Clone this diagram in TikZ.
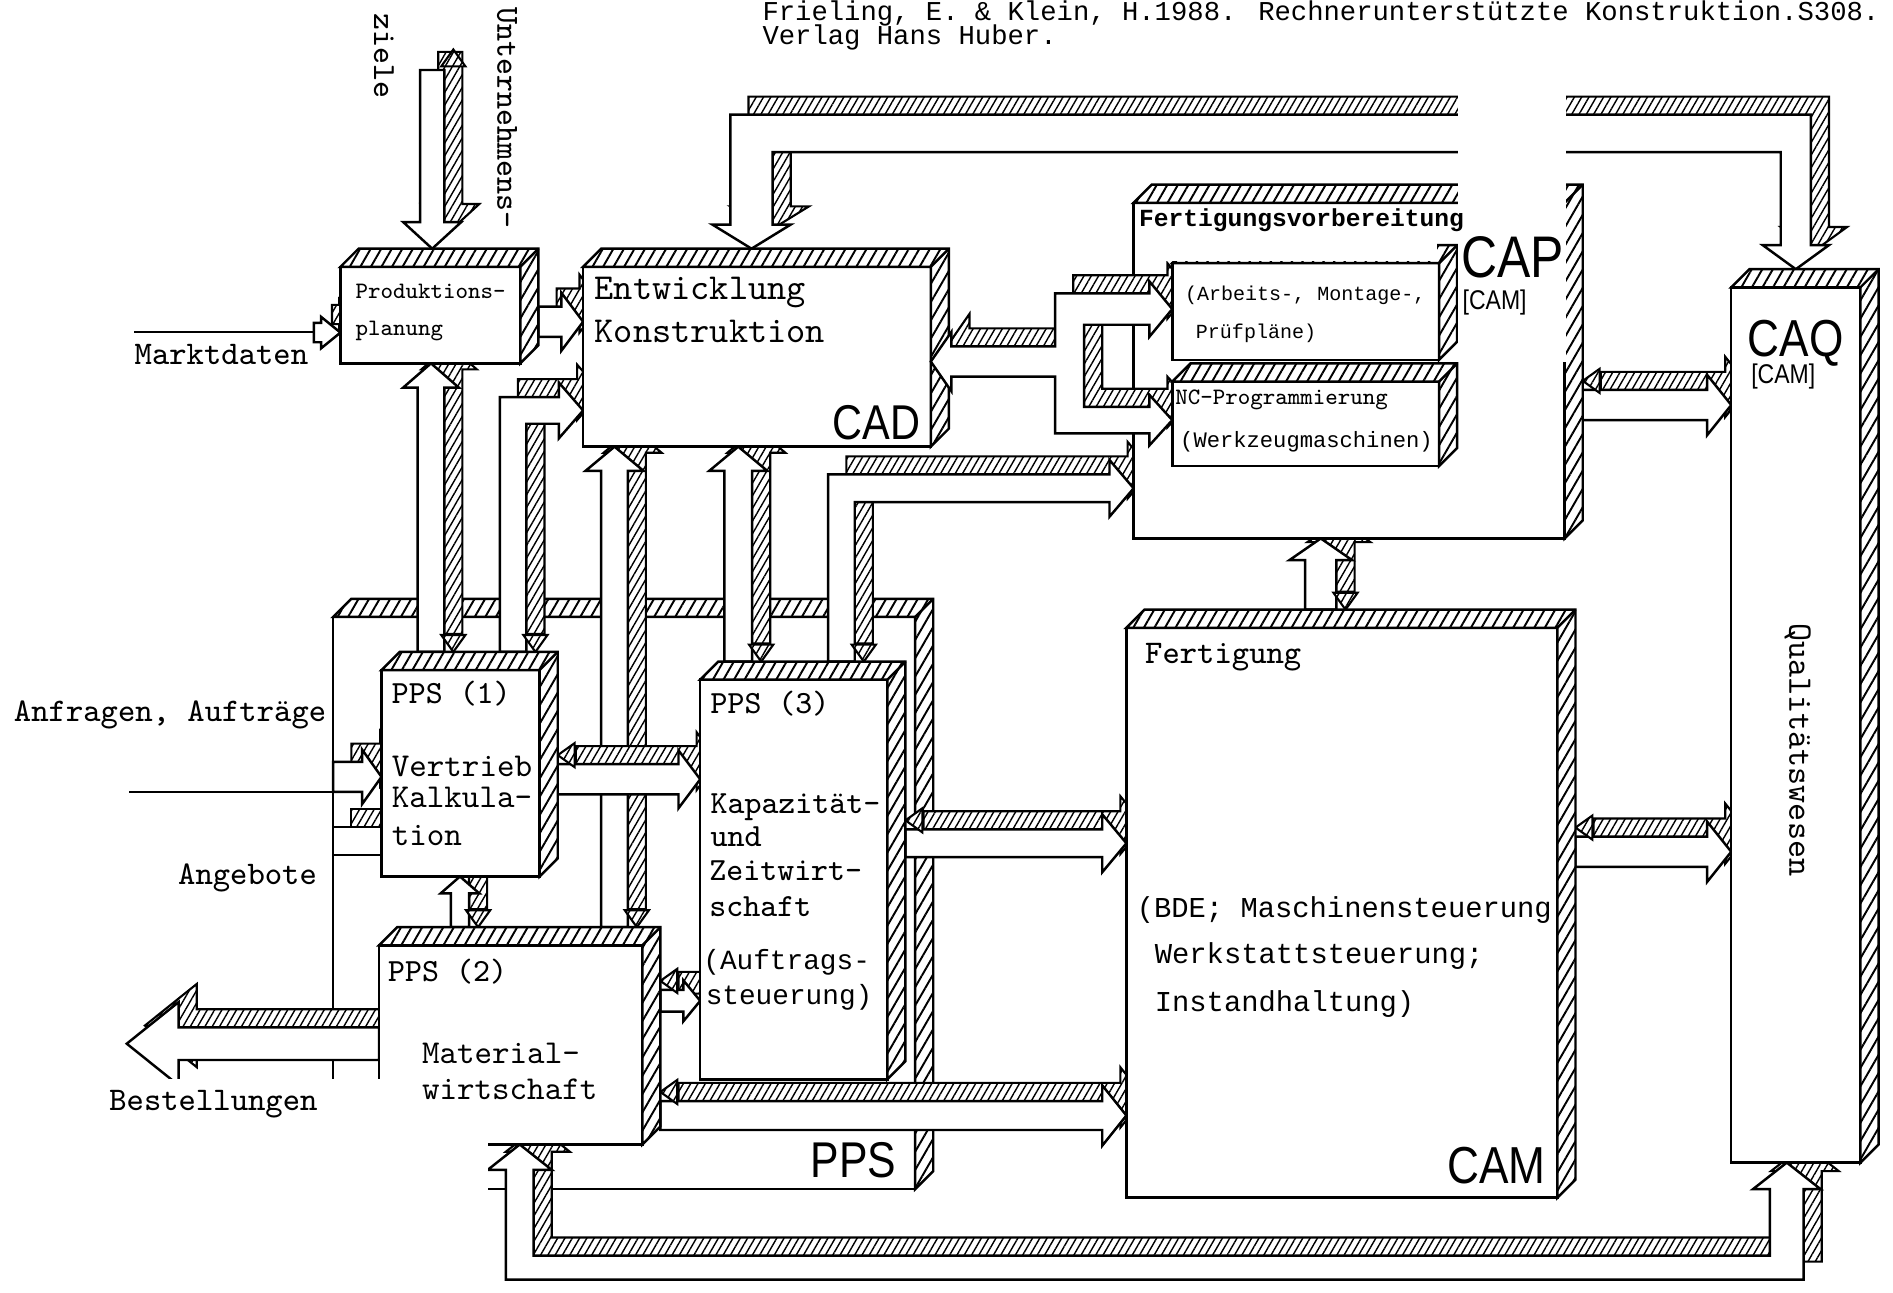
\documentclass[tikz,border=0pt]{standalone}
\usepackage{fontspec}
\usepackage{tikz}
\usetikzlibrary{calc,fit,patterns.meta}

\newfontfamily\dotfont{Liberation Mono}
\newfontfamily\sysfont[FakeStretch=0.85]{Liberation Sans}

% schraffierte Kanten (oben, rechts) eines Kastens
\newcommand{\boxband}[1]{%
  \draw[hatch] (#1.north west) -- ++(15,-15) -- ($(#1.north east)+(15,-15)$)
    -- ($(#1.south east)+(15,-15)$) -- (#1.south east) -- (#1.north east) -- cycle;
  \draw[line width=0.7pt] (#1.north east) -- ++(15,-15);}
% Blockpfeil: Anfang, Winkel, Laenge, halbe Schaftbreite, halbe Spitzenbreite, Spitzenlaenge
\newcommand{\blockarr}[6]{%
  \draw[finehatch, shift={(15,-15)}, shift={#1}, rotate=#2]
    (0,-#4) -- ({#3-#6},-#4) -- ({#3-#6},-#5) -- (#3,0) -- ({#3-#6},#5) -- ({#3-#6},#4) -- (0,#4) -- cycle;
  \draw[face, shift={#1}, rotate=#2]
    (0,-#4) -- ({#3-#6},-#4) -- ({#3-#6},-#5) -- (#3,0) -- ({#3-#6},#5) -- ({#3-#6},#4) -- (0,#4) -- cycle;}
\newcommand{\backtip}[2]{%
  \draw[finehatch, shift={#1}, rotate=#2] (0,0) -- (-14,-10) -- (-14,10) -- cycle;}
\newcommand{\rohr}[1]{%
  \draw[finehatch, shift={(15,-15)}] #1;
  \draw[face] #1;}

\begin{document}
\begin{tikzpicture}[x=0.12073mm, y=-0.12073mm,
  front/.style={draw, fill=white, line width=0.7pt, inner sep=0pt, outer sep=0pt},
  face/.style={draw, fill=white, line width=0.7pt},
  hatch/.style={draw, line width=0.7pt, preaction={fill=white},
    pattern={Lines[angle=60,distance=2.6pt,line width=0.55pt]}},
  finehatch/.style={draw, line width=0.6pt, preaction={fill=white},
    pattern={Lines[angle=60,distance=1.8pt,line width=0.4pt]}},
  tw/.style={inner sep=0pt, anchor=base west, font=\ttfamily\fontsize{9.4}{11}\selectfont},
  dm/.style={inner sep=0pt, anchor=base west, font=\dotfont\fontsize{8.2}{10}\selectfont},
  sys/.style={inner sep=0pt, anchor=base west, font=\sysfont\fontsize{15}{15}\selectfont}]
\useasboundingbox (0,0) rectangle (1568,1071);
\clip (0,0) rectangle (1568,1071);

% Quelle
\node[dm, font=\dotfont\fontsize{7.75}{9}\selectfont] (quelle1) at (631,17)
  {Frieling, E. \& Klein, H.1988. Rechnerunterstützte Konstruktion.S308.};
\node[dm, font=\dotfont\fontsize{7.75}{9}\selectfont] (quelle2) at (631,37) {Verlag Hans Huber.};

% Beschriftungen aussen
\node[tw] (markt) at (111,302) {Marktdaten};
\node[tw] (anfr) at (11,598) {Anfragen, Aufträge};
\node[tw] (angeb) at (147,733) {Angebote};
\node[tw, anchor=west, rotate=-90, font=\ttfamily\fontsize{9.2}{11}\selectfont] (untern) at (420,6) {Unternehmens-};
\node[tw, anchor=west, rotate=-90, font=\ttfamily\fontsize{9.2}{11}\selectfont] (ziele) at (318,11) {ziele};

% PPS-Rahmen
\node[front, fit={(276,511) (758,985)}] (ppsrahmen) {};
\boxband{ppsrahmen}

% Verbindungen
\blockarr{(358,58)}{-90}{148}{10}{24}{22}
\backtip{(375.5,41)}{90}
\coordinate (marktanf) at (111,275);
\coordinate (marktend) at (262,275);
\draw[line width=0.7pt] (marktanf) -- (marktend);
\blockarr{(260,275.5)}{0}{22}{8}{13}{16}
\blockarr{(446,266.5)}{0}{37}{12.5}{24}{18}
\rohr{(605,95) -- (1500,95) -- (1500,203) -- (1515,203) -- (1487.5,223) -- (1460,203) -- (1475,203)
  -- (1475,126) -- (640,126) -- (640,186) -- (655,186) -- (622.5,206) -- (590,186) -- (605,186) -- cycle}
\blockarr{(357,540)}{90}{239}{11}{23}{20}
\backtip{(375.5,540)}{-90}
\rohr{(414,540) -- (414,329) -- (463,329) -- (463,317) -- (483,340) -- (463,363) -- (463,351)
  -- (436,351) -- (436,540) -- cycle}
\backtip{(443.5,540)}{-90}
\blockarr{(611.5,548)}{90}{178}{11.5}{24}{20}
\backtip{(630.5,548)}{-90}
\blockarr{(509,768)}{90}{398}{11}{24}{20}
\backtip{(527.5,768)}{-90}
\rohr{(686,548) -- (686,393) -- (919,393) -- (919,381) -- (939,404.5) -- (919,428) -- (919,416)
  -- (708,416) -- (708,548) -- cycle}
\backtip{(715.5,548)}{-90}
\blockarr{(462,645.5)}{0}{118}{12.5}{24}{18}
\backtip{(462,625.5)}{180}
\blockarr{(381,768)}{90}{42}{7.5}{16}{14}
\backtip{(396,768)}{-90}
\blockarr{(547,829)}{0}{33}{9}{17}{14}
\backtip{(547,812.5)}{180}
\blockarr{(750,698.5)}{0}{183}{11.5}{24}{20}
\backtip{(750,679.5)}{180}
\blockarr{(547,924)}{0}{386}{12}{25}{20}
\backtip{(547,904.5)}{180}
\blockarr{(314,864.5)}{180}{209}{13.5}{34.5}{43}
\rohr{(419,969) -- (404,969) -- (430.5,948) -- (457,969) -- (442,969) -- (442,1040) -- (1466,1040)
  -- (1466,985) -- (1452,985) -- (1480,963) -- (1508,985) -- (1494,985) -- (1494,1060) -- (419,1060) -- cycle}
\coordinate (anfranf) at (107,656);
\coordinate (anfrend) at (276,656);
\draw[line width=0.7pt] (anfranf) -- (anfrend);
\blockarr{(276,643.5)}{0}{40}{12.5}{22.5}{16}
\rohr{(276,685) rectangle (316,708)}
\blockarr{(1094,505)}{90}{59}{13}{26}{18}
\backtip{(1114.5,505)}{-90}
\blockarr{(1311,335.5)}{0}{123}{12.5}{25}{20}
\backtip{(1311,315.5)}{180}
\blockarr{(1305,705.5)}{0}{129}{12.5}{25}{20}
\backtip{(1305,685.5)}{180}

% Kaesten
\node[front, fit={(282,221) (431,301)}] (prod) {};
\boxband{prod}
\node[front, fit={(483,221) (771,370)}] (entw) {};
\boxband{entw}
\node[front, fit={(939,168) (1296,446)}] (cap) {};
\boxband{cap}
\node[front, fit={(933,520) (1290,992)}] (fert) {};
\boxband{fert}
\node[front, fit={(1434,238) (1541,963)}] (caq) {};
\boxband{caq}
\node[front, fit={(316,555) (447,726)}] (pps1) {};
\boxband{pps1}
\node[front, fit={(314,783) (532,948)}] (pps2) {};
\boxband{pps2}
\node[front, fit={(580,563) (735,894)}] (pps3) {};
\boxband{pps3}

\rohr{(788,287) -- (874,287) -- (874,243) -- (952,243) -- (952,233) -- (971,256) -- (952,279)
  -- (952,269) -- (898,269) -- (898,337) -- (952,337) -- (952,327) -- (971,348) -- (952,369)
  -- (952,359) -- (874,359) -- (874,312) -- (788,312) -- (788,324) -- (771,299.5) -- (788,275) -- cycle}
\node[front, fit={(971,218) (1192,298)}] (plaene) {};
\boxband{plaene}
\node[front, fit={(971,316) (1192,386)}] (ncprog) {};
\boxband{ncprog}

% aufgeklebte Beschriftungsfelder
\fill[white] (1208,72) rectangle (1297,300);
\fill[white] (941,170) rectangle (1190,216);
\fill[white] (80,894) rectangle (404,1071);
\node[tw] (bestell) at (90,920) {Bestellungen};

% Texte in den Kaesten
\node[tw, font=\ttfamily\fontsize{6.7}{8}\selectfont] (prod1) at (294,247) {Produktions-};
\node[tw, font=\ttfamily\fontsize{6.7}{8}\selectfont] (prod2) at (294,278) {planung};
\node[tw, font=\ttfamily\fontsize{10.4}{12}\selectfont] (entw1) at (492,248) {Entwicklung};
\node[tw, font=\ttfamily\fontsize{10.4}{12}\selectfont] (entw2) at (492,284) {Konstruktion};
\node[sys, anchor=base east, font=\sysfont\fontsize{13.9}{14}\selectfont] (cadlbl) at (763,364) {CAD};
\node[dm, font=\dotfont\bfseries\fontsize{7}{8}\selectfont] (fv) at (943,188) {Fertigungsvorbereitung};
\node[sys, font=\sysfont\fontsize{16.7}{17}\selectfont] (caplbl) at (1210,230) {CAP};
\node[sys, font=\sysfont\fontsize{7.7}{8}\selectfont] (capcam) at (1211,256) {[CAM]};
\node[dm, font=\dotfont\fontsize{5.7}{7}\selectfont] (plaene1) at (981,249) {(Arbeits-, Montage-,};
\node[dm, font=\dotfont\fontsize{5.7}{7}\selectfont] (plaene2) at (990,280) {Prüfpläne)};
\node[tw, font=\ttfamily\fontsize{6.7}{8}\selectfont] (nc1) at (973,335) {NC-Programmierung};
\node[dm, font=\dotfont\fontsize{6.3}{7}\selectfont] (nc2) at (977,371) {(Werkzeugmaschinen)};
\node[sys, font=\sysfont\fontsize{14.8}{15}\selectfont] (caqlbl) at (1447,295) {CAQ};
\node[sys, font=\sysfont\fontsize{7.7}{8}\selectfont] (caqcam) at (1450,318) {[CAM]};
\node[tw, anchor=center, rotate=-90, font=\ttfamily\fontsize{9.8}{11}\selectfont] (qual) at (1489,621) {Qualitätswesen};
\node[tw] (fert1) at (948,550) {Fertigung};
\node[dm] (fert2) at (941,760) {(BDE; Maschinensteuerung};
\node[dm] (fert3) at (956,798) {Werkstattsteuerung;};
\node[dm] (fert4) at (956,838) {Instandhaltung)};
\node[sys, anchor=base east, font=\sysfont\fontsize{14.8}{15}\selectfont] (camlbl) at (1281,980) {CAM};
\node[tw, font=\ttfamily\fontsize{9.2}{11}\selectfont] (pps1a) at (324,583) {PPS (1)};
\node[tw, font=\ttfamily\fontsize{9.5}{11}\selectfont] (pps1b) at (324,643) {Vertrieb};
\node[tw, font=\ttfamily\fontsize{9.5}{11}\selectfont] (pps1c) at (324,669) {Kalkula-};
\node[tw, font=\ttfamily\fontsize{9.5}{11}\selectfont] (pps1d) at (324,700) {tion};
\node[tw, font=\ttfamily\fontsize{9.2}{11}\selectfont] (pps2a) at (321,813) {PPS (2)};
\node[tw, font=\ttfamily\fontsize{9.5}{11}\selectfont] (pps2b) at (349,881) {Material-};
\node[tw, font=\ttfamily\fontsize{9.5}{11}\selectfont] (pps2c) at (349,911) {wirtschaft};
\node[tw, font=\ttfamily\fontsize{9.2}{11}\selectfont] (pps3a) at (588,591) {PPS (3)};
\node[tw, font=\ttfamily\fontsize{9.2}{11}\selectfont] (pps3b) at (588,674) {Kapazität-};
\node[tw, font=\ttfamily\fontsize{9.2}{11}\selectfont] (pps3c) at (588,701) {und};
\node[tw, font=\ttfamily\fontsize{9.2}{11}\selectfont] (pps3d) at (587,729) {Zeitwirt-};
\node[tw, font=\ttfamily\fontsize{9.2}{11}\selectfont] (pps3e) at (587,759) {schaft};
\node[dm, font=\dotfont\fontsize{7.9}{9}\selectfont] (pps3f) at (582,803) {(Auftrags-};
\node[dm, font=\dotfont\fontsize{7.9}{9}\selectfont] (pps3g) at (584,832) {steuerung)};
\node[sys, anchor=base east, font=\sysfont\fontsize{14.3}{15}\selectfont] (ppslbl) at (743,975) {PPS};
\end{tikzpicture}
\end{document}
